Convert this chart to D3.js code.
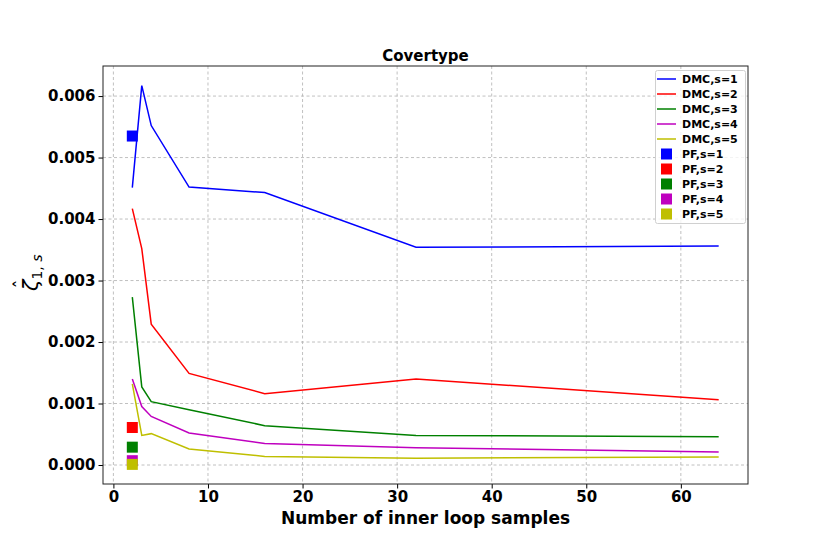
<!DOCTYPE html>
<html>
<head>
<meta charset="utf-8">
<script src="https://cdn.jsdelivr.net/npm/d3@7"></script>
<style>
  body { margin: 0; background: #fff; }
  text { font-family: "DejaVu Sans", sans-serif; }
</style>
</head>
<body>
<script>
// inner loop sample counts
var samples = [2, 3, 4, 8, 16, 32, 64];

// DMC curves, one per s
var dmc1 = [0.00451, 0.00617, 0.00552, 0.00452, 0.00443, 0.00354, 0.00356];
var dmc2 = [0.00417, 0.00352, 0.00229, 0.00149, 0.00116, 0.00140, 0.00106];
var dmc3 = [0.00273, 0.00127, 0.00103, 0.00090, 0.00064, 0.00048, 0.00046];
var dmc4 = [0.00140, 0.00095, 0.00079, 0.00052, 0.00035, 0.00028, 0.00021];
var dmc5 = [0.00132, 0.00048, 0.00051, 0.00026, 0.00014, 0.00011, 0.00013];

// PF single points (at 2 samples)
var pfX = 2;
var pfVals = [0.00535, 0.00061, 0.00029, 0.00007, 0.00001];

var seriesNames = ["s=1", "s=2", "s=3", "s=4", "s=5"];
var colors = ["#0000ff", "#ff0000", "#008000", "#bf00bf", "#bfbf00"];
var xTicks = [0, 10, 20, 30, 40, 50, 60];
var yTicks = [0, 0.001, 0.002, 0.003, 0.004, 0.005, 0.006];

var w = 830, h = 554;
// plot box edges (window.top is reserved, so keep these in an object)
var box = { left: 103, right: 748, top: 66, bottom: 484 };

var svg = d3.select("body").append("svg")
  .attr("width", w)
  .attr("height", h);

var x = d3.scaleLinear().domain([-1.1, 67.1]).range([box.left, box.right]);
var y = d3.scaleLinear().domain([-0.000309, 0.006489]).range([box.bottom, box.top]);

// grid
var grid = svg.append("g");
grid.selectAll(".gx").data(xTicks).enter().append("line")
  .attr("x1", function (d) { return x(d); })
  .attr("x2", function (d) { return x(d); })
  .attr("y1", box.top).attr("y2", box.bottom)
  .attr("stroke", "#b0b0b0").attr("stroke-width", 0.8)
  .attr("stroke-dasharray", "3,2.5");
grid.selectAll(".gy").data(yTicks).enter().append("line")
  .attr("y1", function (d) { return y(d); })
  .attr("y2", function (d) { return y(d); })
  .attr("x1", box.left).attr("x2", box.right)
  .attr("stroke", "#b0b0b0").attr("stroke-width", 0.8)
  .attr("stroke-dasharray", "3,2.5");

// lines
var dmc = [dmc1, dmc2, dmc3, dmc4, dmc5];
var line = d3.line()
  .x(function (d, i) { return x(samples[i]); })
  .y(function (d) { return y(d); });

svg.append("g").selectAll("path").data(dmc).enter().append("path")
  .attr("d", line)
  .attr("fill", "none")
  .attr("stroke", function (d, i) { return colors[i]; })
  .attr("stroke-width", 1.5);

// PF markers
var ms = 11;
svg.append("g").selectAll("rect").data(pfVals).enter().append("rect")
  .attr("x", x(pfX) - ms / 2)
  .attr("y", function (d) { return y(d) - ms / 2; })
  .attr("width", ms).attr("height", ms)
  .attr("fill", function (d, i) { return colors[i]; });

// axes
var xAxis = d3.axisBottom(x).tickValues(xTicks).tickSize(4.5).tickPadding(3)
  .tickFormat(d3.format("d"));
var yAxis = d3.axisLeft(y).tickValues(yTicks).tickSize(4.5).tickPadding(3)
  .tickFormat(d3.format(".3f"));

var gx = svg.append("g").attr("transform", "translate(0," + box.bottom + ")").call(xAxis);
var gy = svg.append("g").attr("transform", "translate(" + box.left + ",0)").call(yAxis);
[gx, gy].forEach(function (g) {
  g.select(".domain").remove();
  g.selectAll("line").attr("stroke", "#000").attr("stroke-width", 1);
  g.selectAll("text")
    .attr("fill", "#000")
    .style("font-size", "15px")
    .style("font-weight", "bold");
});

// frame
svg.append("rect")
  .attr("x", box.left).attr("y", box.top)
  .attr("width", box.right - box.left).attr("height", box.bottom - box.top)
  .attr("fill", "none").attr("stroke", "#222").attr("stroke-width", 1);

// title + labels
var cx = (box.left + box.right) / 2;
svg.append("text")
  .attr("x", cx).attr("y", 61)
  .attr("text-anchor", "middle")
  .style("font-size", "15px").style("font-weight", "bold")
  .text("Covertype");

svg.append("text")
  .attr("x", cx).attr("y", 524)
  .attr("text-anchor", "middle")
  .style("font-size", "17px").style("font-weight", "bold")
  .text("Number of inner loop samples");

// y label: zeta hat with subscript, rotated
var yl = svg.append("text")
  .attr("transform", "translate(38,291) rotate(-90)")
  .style("font-size", "21px");
yl.append("tspan").style("font-style", "italic").text("ζ");
yl.append("tspan").attr("dy", 4).style("font-size", "14px").text("1,");
yl.append("tspan").style("font-size", "14px").style("font-style", "italic").text(" s");
svg.append("text")
  .attr("transform", "translate(27,284) rotate(-90)")
  .attr("text-anchor", "middle")
  .style("font-size", "18px")
  .text("ˆ");

// legend
var lg = svg.append("g");
lg.append("rect")
  .attr("x", 655.5).attr("y", 70.5)
  .attr("width", 90).attr("height", 153)
  .attr("rx", 2)
  .attr("fill", "#fff").attr("fill-opacity", 0.8)
  .attr("stroke", "#d0d0d0");

var legendItems = [];
seriesNames.forEach(function (n, i) { legendItems.push({ label: "DMC," + n, c: colors[i], kind: "line" }); });
seriesNames.forEach(function (n, i) { legendItems.push({ label: "PF," + n, c: colors[i], kind: "sq" }); });

var li = lg.selectAll(".li").data(legendItems).enter().append("g")
  .attr("transform", function (d, i) { return "translate(0," + (79 + i * 15) + ")"; });
li.filter(function (d) { return d.kind === "line"; }).append("line")
  .attr("x1", 657).attr("x2", 676).attr("y1", 0).attr("y2", 0)
  .attr("stroke", function (d) { return d.c; }).attr("stroke-width", 1.5);
li.filter(function (d) { return d.kind === "sq"; }).append("rect")
  .attr("x", 661).attr("y", -5.5).attr("width", 11).attr("height", 11)
  .attr("fill", function (d) { return d.c; });
li.append("text")
  .attr("x", 682).attr("y", 4)
  .style("font-size", "11px").style("font-weight", "bold")
  .text(function (d) { return d.label; });
</script>
</body>
</html>
